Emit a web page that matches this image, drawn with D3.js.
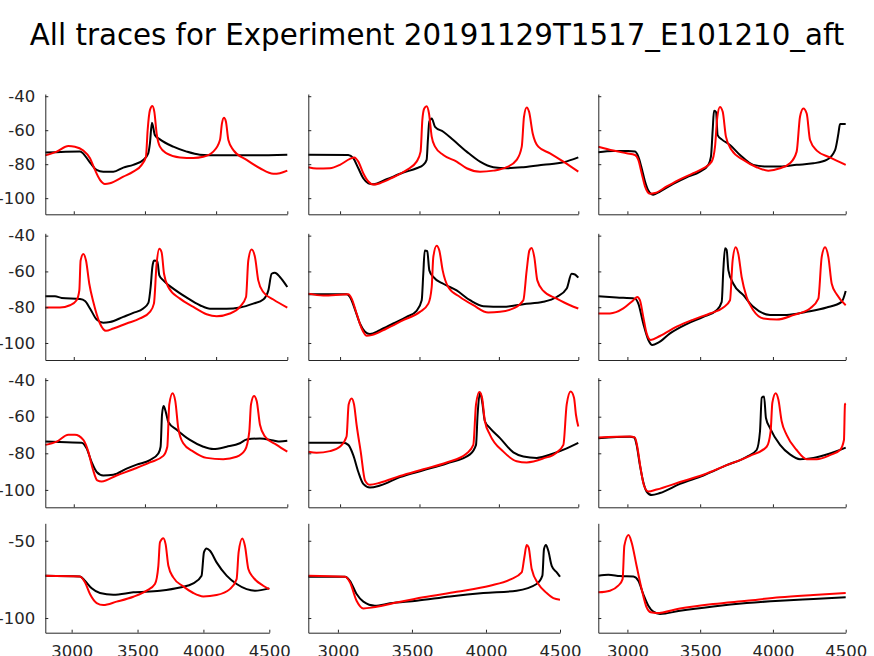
<!DOCTYPE html>
<html>
<head>
<meta charset="utf-8">
<script src="https://cdn.jsdelivr.net/npm/d3@7"></script>
<style>
  body { margin: 0; background: #fff; }
  svg { font-family: "DejaVu Sans", sans-serif; }
  .axis path, .axis line { stroke: #262626; }
  .trace { fill: none; stroke-width: 2; stroke-linejoin: round; }
</style>
</head>
<body>
<div id="chart"></div>
<script>
var title = "All traces for Experiment 20191129T1517_E101210_aft";

var xTicks = [3000, 3500, 4000, 4500],
    yTicks = [-40, -60, -80, -100],
    yTicksLast = [-50, -100];

// [time (ms), voltage (mV)] for each panel, read left-to-right, top-to-bottom
var blackTraces = [
  [[2800,-73.2],[3044,-72.5],[3114,-79],[3160,-83.4],[3207,-84.5],[3278,-84.5],[3348,-82],[3418,-80.4],[3488,-77.5],[3523,-73.6],[3535,-67.7],[3549,-55.6],[3570,-62.9],[3605,-65.4],[3699,-69.7],[3793,-72.6],[3886,-74.4],[4004,-74.8],[4238,-74.8],[4500,-74.4]],
  [[2800,-74.4],[3052,-74.6],[3083,-76.5],[3115,-82.4],[3146,-88.3],[3178,-91.2],[3209,-91.8],[3293,-88.9],[3398,-84.9],[3482,-82.4],[3524,-80.4],[3545,-77.5],[3553,-65.8],[3562,-55],[3577,-53.1],[3598,-58],[3650,-60.9],[3713,-65.8],[3797,-72.6],[3881,-78.5],[3965,-81.8],[4049,-82.4],[4154,-81.8],[4280,-80.4],[4406,-78.9],[4500,-76]],
  [[2800,-73],[2903,-72.2],[3006,-72.2],[3052,-72.6],[3075,-75.6],[3098,-82.4],[3121,-90.2],[3144,-95.5],[3178,-98],[3224,-96.1],[3315,-91.6],[3407,-87.7],[3499,-84.4],[3556,-80.4],[3574,-75.6],[3586,-59.9],[3595,-48.6],[3609,-49.2],[3620,-62.9],[3648,-65.4],[3705,-68.7],[3774,-74.6],[3865,-80.4],[3957,-81.4],[4049,-81.4],[4163,-80.4],[4278,-79.5],[4369,-77.5],[4427,-71.7],[4450,-61.9],[4461,-56.4],[4500,-56.4]],
  [[2800,-73.9],[2868,-73.9],[2915,-74.8],[3044,-75.4],[3079,-76.5],[3114,-80.7],[3161,-86.9],[3207,-88.7],[3254,-88.3],[3348,-85.4],[3418,-83.2],[3488,-80.7],[3524,-77.6],[3540,-68.7],[3552,-57.6],[3564,-53.9],[3587,-54.3],[3601,-62.2],[3629,-65],[3699,-69.6],[3793,-74.6],[3886,-78.9],[3957,-80.9],[4074,-80.9],[4167,-80.2],[4261,-78],[4331,-75.7],[4367,-70.6],[4390,-61.3],[4413,-60.7],[4448,-63.1],[4500,-68.7]],
  [[2800,-72.8],[3041,-72.8],[3062,-74.3],[3094,-81.3],[3125,-89.1],[3157,-93.7],[3188,-95],[3251,-92.8],[3335,-89.1],[3419,-85.4],[3482,-82],[3514,-76.1],[3524,-61.3],[3533,-48.3],[3549,-48.7],[3562,-59.4],[3587,-63.1],[3650,-66.9],[3734,-70.6],[3818,-76.1],[3902,-79.4],[4028,-79.8],[4154,-78.3],[4280,-77],[4364,-74.3],[4427,-69.6],[4458,-61.3],[4479,-61.7],[4500,-63.5]],
  [[2800,-73.9],[2926,-74.6],[3052,-75.2],[3075,-78],[3109,-89.1],[3144,-98.3],[3171,-101.1],[3212,-99.8],[3293,-94.6],[3407,-89.4],[3522,-85.4],[3613,-81.7],[3648,-77],[3659,-59.4],[3671,-47],[3682,-48],[3694,-59.4],[3728,-66.9],[3797,-73.3],[3865,-79.8],[3980,-84.3],[4094,-84.3],[4232,-82.6],[4369,-80.2],[4472,-77],[4500,-70.9]],
  [[2800,-73.6],[2950,-74],[3055,-74.2],[3090,-77.3],[3125,-84.7],[3161,-90.2],[3207,-92.1],[3278,-91.7],[3371,-88.4],[3442,-86.2],[3535,-83.7],[3594,-80.1],[3610,-76.4],[3620,-58.8],[3631,-54.2],[3648,-57.9],[3664,-62.9],[3723,-67.1],[3816,-72.7],[3910,-76.4],[3980,-77.7],[4074,-76.4],[4167,-74.5],[4214,-72.5],[4308,-71.9],[4402,-73],[4448,-73.6],[4500,-73.2]],
  [[2800,-74.2],[3020,-74.2],[3052,-75.4],[3083,-81],[3115,-90.2],[3146,-96.7],[3188,-98.7],[3251,-97.6],[3377,-93],[3524,-89.3],[3671,-85.6],[3818,-80.6],[3856,-75.4],[3866,-58.8],[3881,-46.8],[3894,-51.4],[3912,-62.5],[3944,-66.2],[4007,-71.7],[4091,-79.5],[4154,-81.7],[4238,-82.5],[4343,-80.1],[4427,-77.3],[4500,-74.3]],
  [[2800,-71.8],[3018,-71],[3047,-71.4],[3063,-75.4],[3086,-86.5],[3109,-95.7],[3132,-100.9],[3167,-102.8],[3224,-101.7],[3361,-96.7],[3522,-92.1],[3682,-86.5],[3820,-81.9],[3888,-78.2],[3911,-68.1],[3923,-49.6],[3939,-49],[3952,-60.7],[3980,-66.2],[4049,-75.4],[4117,-80.6],[4186,-83.2],[4278,-82.5],[4392,-80.1],[4500,-76.9]],
  [[2800,-72.6],[3063,-73.1],[3101,-75.9],[3152,-80.8],[3215,-83.8],[3316,-84.9],[3468,-83.4],[3670,-82.3],[3822,-80.2],[3923,-77.6],[3986,-72.6],[4004,-57.5],[4024,-55],[4050,-56.5],[4100,-64],[4176,-72.6],[4252,-78],[4328,-81.3],[4391,-82.3],[4500,-80.8]],
  [[2800,-73.3],[3048,-73.3],[3081,-75.9],[3126,-84.5],[3172,-89.4],[3250,-92],[3352,-90.5],[3532,-88.8],[3757,-86],[3982,-83.8],[4207,-82.3],[4342,-78],[4381,-72.6],[4392,-55.4],[4405,-52.8],[4421,-56.5],[4444,-66.2],[4478,-70.5],[4500,-73.3]],
  [[2800,-72.6],[2869,-72],[2949,-72.8],[3041,-73.1],[3075,-75.9],[3109,-84.5],[3144,-92],[3178,-95.9],[3224,-97.4],[3361,-95.3],[3590,-92.5],[3820,-90.3],[4049,-88.8],[4278,-87.7],[4500,-86.6]]
];

var redTraces = [
  [[2800,-74.8],[2880,-72.6],[2962,-69.3],[3008,-69.7],[3067,-72],[3114,-76.5],[3149,-83.4],[3184,-89.2],[3219,-91.6],[3254,-91.2],[3348,-87.3],[3418,-84.4],[3477,-80.4],[3507,-75.6],[3519,-59.9],[3535,-48.2],[3552,-45.7],[3566,-49.2],[3582,-61.9],[3605,-69.7],[3652,-73.6],[3746,-76],[3840,-76.3],[3910,-75.6],[3980,-72.6],[4027,-65.8],[4041,-56],[4055,-52.7],[4069,-55],[4086,-65.8],[4121,-71.7],[4214,-77.5],[4308,-82.4],[4402,-85.7],[4448,-85.3],[4500,-83.8]],
  [[2800,-81.8],[2852,-82.6],[2936,-82.4],[2999,-80.4],[3062,-76.9],[3090,-76],[3115,-78.5],[3146,-85.3],[3178,-90.2],[3209,-92],[3251,-91.2],[3335,-87.7],[3419,-83.4],[3482,-78.5],[3507,-72.6],[3518,-54.1],[3530,-47.2],[3545,-45.9],[3560,-50.2],[3577,-63.8],[3598,-69.7],[3650,-74.6],[3734,-78.5],[3797,-82.4],[3881,-84.4],[3965,-83.8],[4049,-81.8],[4112,-77.5],[4144,-69.7],[4158,-52.1],[4175,-46.6],[4190,-49.2],[4213,-61.9],[4248,-69.7],[4322,-73.6],[4406,-78.5],[4500,-84.4]],
  [[2800,-69.7],[2903,-72],[2995,-73.6],[3052,-74.6],[3075,-77.5],[3098,-85.3],[3121,-93.1],[3155,-97.4],[3189,-97],[3270,-93.1],[3361,-88.9],[3453,-85.3],[3522,-82.4],[3579,-78.5],[3602,-69.7],[3618,-52.1],[3636,-46.3],[3655,-49.2],[3677,-63.8],[3716,-71.7],[3797,-77.5],[3888,-81.8],[3968,-83.8],[4049,-82.4],[4117,-79.5],[4163,-72.6],[4186,-52.1],[4209,-47.2],[4232,-50.2],[4255,-65.8],[4301,-72],[4392,-76],[4500,-80.4]],
  [[2800,-80.2],[2903,-80.2],[2973,-78.9],[3020,-76.1],[3039,-70.6],[3048,-53.9],[3067,-50.2],[3086,-53.9],[3109,-66.9],[3137,-77],[3184,-89.1],[3226,-93.2],[3278,-91.9],[3371,-89.1],[3465,-86.3],[3535,-82.6],[3563,-78],[3582,-55.7],[3601,-47.4],[3617,-49.3],[3634,-61.3],[3664,-68.7],[3746,-75.2],[3840,-79.8],[3933,-83.9],[4004,-85],[4097,-83.5],[4167,-79.8],[4210,-74.3],[4226,-53.9],[4249,-47.8],[4273,-52],[4296,-65],[4331,-71.5],[4402,-75.7],[4500,-80.2]],
  [[2800,-72.4],[2894,-73.5],[3052,-72.8],[3073,-75.2],[3104,-83.5],[3136,-91.9],[3167,-95.9],[3199,-95.6],[3293,-91.9],[3398,-87.2],[3503,-82.6],[3556,-78],[3577,-68.7],[3587,-52],[3608,-45.6],[3625,-48.3],[3646,-59.4],[3681,-68.7],[3755,-74.3],[3839,-78.9],[3933,-83],[4007,-82.6],[4091,-80.7],[4154,-76.1],[4175,-59.4],[4192,-48.3],[4206,-46.9],[4223,-52],[4242,-65],[4280,-70.9],[4364,-75.2],[4448,-78.9],[4500,-80.7]],
  [[2800,-83.5],[2880,-83.5],[2972,-80.7],[3041,-76.1],[3068,-74.3],[3086,-76.1],[3109,-85.4],[3132,-94.6],[3160,-98.3],[3224,-96.1],[3338,-90.9],[3453,-86.9],[3567,-83.5],[3659,-80.2],[3705,-76.1],[3723,-53.9],[3744,-46.5],[3762,-50.2],[3785,-63.1],[3819,-74.3],[3865,-81.7],[3934,-86.3],[4026,-86.9],[4140,-84.4],[4255,-80.7],[4312,-75.2],[4335,-52],[4358,-46.5],[4381,-52],[4404,-66.9],[4438,-72.8],[4500,-78.9]],
  [[2800,-75.4],[2880,-73.6],[2962,-69.9],[3008,-69.9],[3067,-72.7],[3102,-79.1],[3133,-88.4],[3165,-94.8],[3196,-95.4],[3301,-92.1],[3418,-88.7],[3535,-85],[3629,-81.4],[3657,-76.4],[3671,-53.3],[3694,-47.2],[3713,-51.4],[3734,-66.2],[3769,-74.5],[3840,-79.1],[3933,-82.5],[4050,-83.2],[4144,-81.9],[4203,-78.2],[4233,-68.1],[4245,-53.3],[4266,-48.7],[4285,-51.4],[4308,-64.4],[4343,-70.8],[4425,-75.4],[4500,-79.1]],
  [[2800,-79.1],[2852,-79.7],[2936,-78.8],[2999,-76.4],[3041,-70.8],[3054,-53.3],[3073,-50],[3088,-53.3],[3104,-64.4],[3130,-79.1],[3157,-94.8],[3188,-97.2],[3251,-96.1],[3377,-92.4],[3524,-88.7],[3671,-85],[3797,-80.1],[3839,-75.4],[3856,-53.3],[3877,-46.5],[3894,-49.6],[3912,-62.5],[3944,-69.9],[4028,-79.1],[4112,-84.3],[4175,-85],[4280,-82.8],[4364,-79.5],[4406,-75.4],[4427,-53.3],[4452,-46.3],[4473,-49.6],[4485,-58.8],[4500,-65.3]],
  [[2800,-71.4],[3018,-70.8],[3052,-71.4],[3068,-76.4],[3091,-88.4],[3114,-97.6],[3144,-100.9],[3201,-99.8],[3361,-95.7],[3522,-91.7],[3682,-86.5],[3842,-81.4],[3957,-76.4],[3984,-68.1],[3996,-52.4],[4019,-47.2],[4037,-50.5],[4060,-62.5],[4094,-69.9],[4163,-78.2],[4232,-83.2],[4301,-83.2],[4392,-81],[4461,-78.2],[4488,-72.7],[4495,-53.3],[4500,-52.7]],
  [[2800,-72.6],[3063,-73.1],[3101,-76.9],[3139,-84.5],[3190,-90.3],[3240,-91.6],[3341,-89.4],[3468,-86.2],[3569,-82.3],[3632,-78],[3658,-66.2],[3670,-51.1],[3696,-48.3],[3713,-52.2],[3734,-66.2],[3771,-73.7],[3847,-79.5],[3923,-83.8],[3999,-86],[4100,-85.1],[4201,-81.3],[4252,-74.8],[4267,-57.5],[4295,-48.5],[4315,-53.2],[4341,-68.3],[4378,-73.7],[4454,-79.1],[4500,-81.3]],
  [[2800,-72.6],[3048,-73.3],[3081,-76.9],[3126,-88.8],[3172,-93.8],[3239,-93.1],[3352,-90.9],[3577,-86.6],[3802,-83],[4027,-79.1],[4162,-75.2],[4241,-70.5],[4259,-60.8],[4275,-52.8],[4288,-54.3],[4309,-68.3],[4354,-78],[4410,-83.8],[4455,-87.1],[4500,-88.1]],
  [[2800,-83.4],[2880,-82.3],[2937,-79.1],[2967,-74.8],[2979,-53.2],[3008,-46.3],[3029,-51.1],[3063,-66.2],[3098,-81.3],[3132,-93.1],[3160,-96.3],[3201,-96.8],[3361,-93.8],[3590,-90.9],[3820,-88.8],[4049,-86.6],[4278,-85.1],[4500,-83.8]]
];

var width = 874, height = 656;

// panel geometry (pixels), MATLAB subplot layout
var colLeft = [45.3, 308.3, 598.3],
    colRight = [[287.3, 287.3, 287.3, 269.3], [578.3, 578.3, 578.3, 560], [845.7, 845.7, 845.7, 845.7]],
    rowTop = [94, 233.3, 377.7, 523.3],
    rowBottom = [214.3, 360, 507.3, 632.7];

var svg = d3.select("#chart").append("svg")
    .attr("width", width)
    .attr("height", height);

svg.append("text")
    .attr("x", width / 2)
    .attr("y", 45)
    .attr("text-anchor", "middle")
    .style("font-size", "29.3px")
    .style("fill", "#000")
    .text(title);

var line = d3.line().curve(d3.curveMonotoneX);
var plain = function(d) { return String(d); };

blackTraces.forEach(function(bt, i) {
  var row = Math.floor(i / 3), col = i % 3;
  var x = d3.scaleLinear().domain([2800, 4500]).range([colLeft[col], colRight[col][row]]);
  var y = d3.scaleLinear().domain([-109.5, -38.7]).range([rowBottom[row], rowTop[row]]);

  var g = svg.append("g");

  line.x(function(d) { return x(d[0]); })
      .y(function(d) { return y(d[1]); });

  g.append("path").attr("class", "trace").attr("stroke", "#000").attr("d", line(bt));
  g.append("path").attr("class", "trace").attr("stroke", "#ff0000").attr("d", line(redTraces[i]));

  var xAxis = d3.axisBottom(x).tickValues(xTicks).tickSizeInner(-3).tickSizeOuter(0)
      .tickPadding(13).tickFormat(row === 3 ? plain : "");
  var yAxis = d3.axisLeft(y).tickValues(row === 3 ? yTicksLast : yTicks).tickSizeInner(-3).tickSizeOuter(0)
      .tickPadding(10).tickFormat(col === 0 ? plain : "");

  g.append("g")
      .attr("class", "axis")
      .attr("transform", "translate(0," + rowBottom[row] + ")")
      .call(xAxis);

  g.append("g")
      .attr("class", "axis")
      .attr("transform", "translate(" + colLeft[col] + ",0)")
      .call(yAxis);
});

svg.selectAll(".axis")
    .attr("font-family", null)
    .attr("font-size", null);
svg.selectAll(".axis text")
    .style("font-family", "'DejaVu Sans', sans-serif")
    .style("font-size", "16.5px")
    .style("fill", "#262626");
</script>
</body>
</html>
